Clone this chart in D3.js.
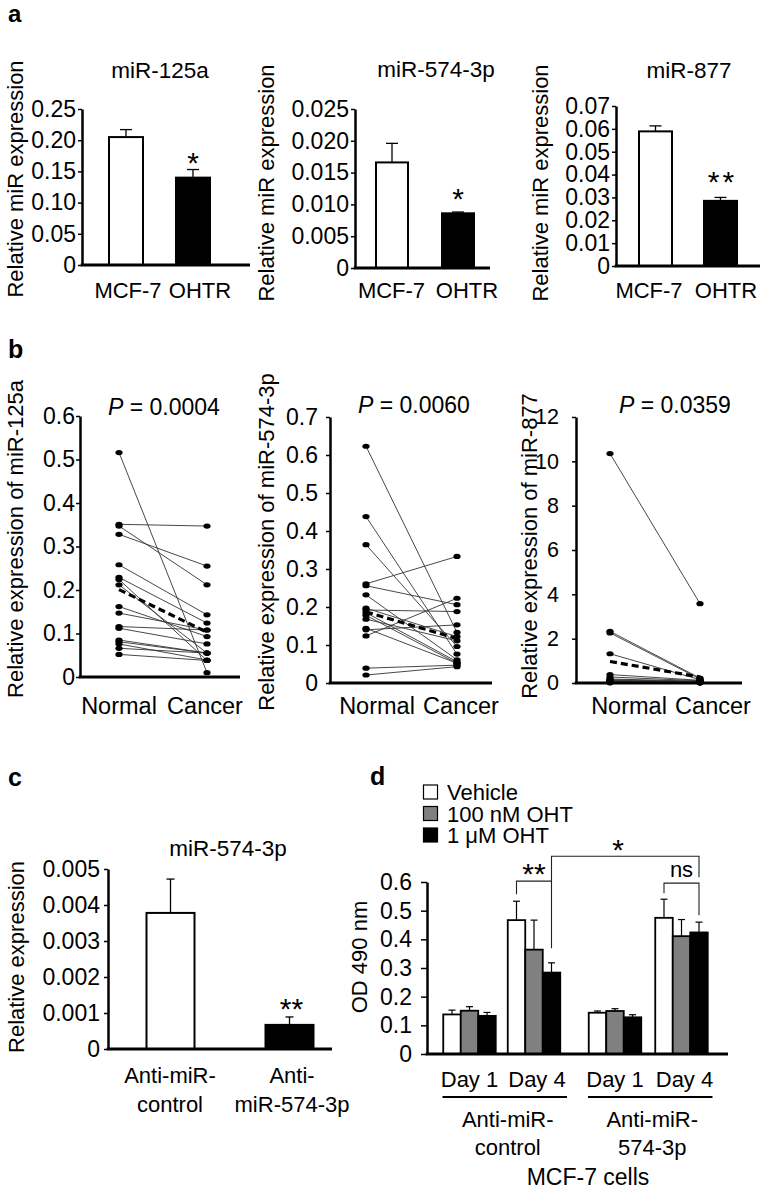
<!DOCTYPE html>
<html><head><meta charset="utf-8">
<script src="https://cdn.jsdelivr.net/npm/d3@7"></script>
<style>
body{margin:0;background:#fff;}
svg{display:block;font-family:"Liberation Sans",Arial,Helvetica,sans-serif;}
</style></head><body>
<svg id="chart" width="764" height="1192"></svg>
<script>
// ================= DATA =================
// Panel a
const aCategories = ["MCF-7", "OHTR"];
const a125aValues = [0.205, 0.140];
const a125aErrors = [0.012, 0.013];
const a125aTicks = [0, 0.05, 0.10, 0.15, 0.20, 0.25];
const a574Values = [0.0166, 0.0086];
const a574Errors = [0.0030, 0.0002];
const a574Ticks = [0, 0.005, 0.010, 0.015, 0.020, 0.025];
const a877Values = [0.0589, 0.0285];
const a877Errors = [0.0024, 0.0015];
const a877Ticks = [0, 0.01, 0.02, 0.03, 0.04, 0.05, 0.06, 0.07];

// Panel b (paired Normal / Cancer)
const bCategories = ["Normal", "Cancer"];
const b125aNormal = [0.516, 0.351, 0.347, 0.328, 0.258, 0.229, 0.224, 0.212, 0.162, 0.147, 0.116, 0.112, 0.085, 0.081, 0.076, 0.066, 0.052];
const b125aCancer = [0.010, 0.347, 0.212, 0.255, 0.143, 0.124, 0.038, 0.055, 0.093, 0.108, 0.108, 0.076, 0.055, 0.055, 0.039, 0.055, 0.038];
const b125aMean = [0.201, 0.103];
const b125aTicks = [0, 0.1, 0.2, 0.3, 0.4, 0.5, 0.6];
const b574Normal = [0.623, 0.438, 0.364, 0.261, 0.256, 0.232, 0.197, 0.192, 0.185, 0.178, 0.168, 0.144, 0.140, 0.124, 0.039, 0.021];
const b574Cancer = [0.133, 0.076, 0.096, 0.333, 0.206, 0.061, 0.122, 0.188, 0.056, 0.052, 0.111, 0.052, 0.153, 0.223, 0.047, 0.043];
const b574Mean = [0.187, 0.117];
const b574Ticks = [0, 0.1, 0.2, 0.3, 0.4, 0.5, 0.6, 0.7];
const b877Normal = [10.35, 2.33, 2.26, 1.32, 0.38, 0.27, 0.18, 0.15, 0.12, 0.10, 0.08, 0.06, 0.05, 0.04, 0.03, 0.02, 0.01];
const b877Cancer = [3.58, 0.22, 0.18, 0.15, 0.12, 0.10, 0.08, 0.06, 0.05, 0.04, 0.03, 0.03, 0.02, 0.02, 0.01, 0.01, 0.01];
const b877Mean = [0.97, 0.27];
const b877Ticks = [0, 2, 4, 6, 8, 10, 12];
const bPValues = ["0.0004", "0.0060", "0.0359"];

// Panel c
const cCategories = ["Anti-miR-control", "Anti-miR-574-3p"];
const cCategoryLines = [["Anti-miR-", "control"], ["Anti-", "miR-574-3p"]];
const cValues = [0.00378, 0.00067];
const cErrors = [0.00094, 0.00022];
const cTicks = [0, 0.001, 0.002, 0.003, 0.004, 0.005];

// Panel d
const dGroups = ["ctrl-d1", "ctrl-d4", "574-d1", "574-d4"];
const dGroupLabels = ["Day 1", "Day 4", "Day 1", "Day 4"];
const dClusterLines = [["Anti-miR-", "control"], ["Anti-miR-", "574-3p"]];
const dSeries = ["Vehicle", "100 nM OHT", "1 \u03bcM OHT"];
const dVehicle = [0.138, 0.467, 0.144, 0.475];
const dVehicleErr = [0.015, 0.066, 0.006, 0.065];
const d100nM = [0.151, 0.364, 0.150, 0.411];
const d100nMErr = [0.014, 0.103, 0.008, 0.058];
const d1uM = [0.133, 0.284, 0.128, 0.424];
const d1uMErr = [0.012, 0.034, 0.009, 0.036];
const dTicks = [0, 0.1, 0.2, 0.3, 0.4, 0.5, 0.6];

// ================= DRAWING =================
const FAM = '"Liberation Sans", Arial, Helvetica, sans-serif';
const svg = d3.select("#chart");

function addText(x, y, s, o = {}) {
  return svg.append("text").attr("x", x).attr("y", y)
    .attr("text-anchor", o.anchor || "middle")
    .attr("font-size", o.size || 22)
    .attr("font-weight", o.weight || "normal")
    .attr("letter-spacing", o.ls || null)
    .attr("fill", "#000")
    .text(s);
}
function addRotText(x, cy, s, size) {
  svg.append("text").attr("transform", `translate(${x},${cy}) rotate(-90)`)
    .attr("text-anchor", "middle").attr("font-size", size).attr("fill", "#000").text(s);
}
function drawYAxis(scale, ticks, fmt, x, tickSize, pad, fontSize = 23) {
  const g = svg.append("g").attr("transform", `translate(${x},0)`)
    .call(d3.axisLeft(scale).tickValues(ticks).tickFormat(fmt)
      .tickSize(tickSize).tickPadding(pad).tickSizeOuter(0));
  g.attr("font-size", fontSize).attr("font-family", FAM);
  g.select(".domain").attr("stroke", "#000").attr("stroke-width", 2.5);
  g.selectAll(".tick line").attr("stroke", "#000").attr("stroke-width", 1.5);
  g.selectAll(".tick text").attr("fill", "#000");
  return g;
}
function drawXBase(x0, x1, y) {
  svg.append("line").attr("x1", x0 - 1.25).attr("x2", x1).attr("y1", y).attr("y2", y)
    .attr("stroke", "#000").attr("stroke-width", 3);
}
const zeroFmt = f => (d => d === 0 ? "0" : d3.format(f)(d));

function barPanel(p) {
  const y = d3.scaleLinear().domain([0, p.max]).range([p.y0, p.yTop]);
  const x = d3.scalePoint().domain(p.cats).range(p.centerRange);
  const xl = d3.scalePoint().domain(p.cats).range(p.labelRange);
  drawYAxis(y, p.ticks, p.fmt, p.axisX, p.tickSize, p.tickPad);
  const data = p.cats.map((c, i) => ({ c, v: p.values[i], e: p.errors[i], fill: p.fills[i] }));
  const g = svg.append("g");
  g.selectAll("line.err").data(data).join("line").attr("class", "err")
    .attr("x1", d => x(d.c)).attr("x2", d => x(d.c))
    .attr("y1", d => y(d.v)).attr("y2", d => y(d.v + d.e))
    .attr("stroke", "#000").attr("stroke-width", 1.3);
  g.selectAll("line.cap").data(data).join("line").attr("class", "cap")
    .attr("x1", d => x(d.c) - p.capW).attr("x2", d => x(d.c) + p.capW)
    .attr("y1", d => y(d.v + d.e)).attr("y2", d => y(d.v + d.e))
    .attr("stroke", "#000").attr("stroke-width", 1.3);
  g.selectAll("rect").data(data).join("rect")
    .attr("x", d => x(d.c) - p.barW / 2).attr("width", p.barW)
    .attr("y", d => y(d.v)).attr("height", d => y(0) - y(d.v))
    .attr("fill", d => d.fill).attr("stroke", "#000").attr("stroke-width", 2);
  drawXBase(p.axisX, p.axisEnd, y(0));
  p.catLines.forEach((lines, i) => {
    lines.forEach((s, j) => addText(xl(p.cats[i]), p.catY + j * p.lineH, s, { size: p.catSize }));
  });
  addText(p.titleX, p.titleY, p.title, { size: 22.5 });
  addRotText(p.ylabX, p.ylabY, p.ylab, 22);
  addText(x(p.cats[1]) + (p.sigDx || 0), p.sigY, p.sig, { size: 30, ls: p.sigLs || null });
}

// ---- Panel a ----
addText(8, 22, "a", { anchor: "start", size: 24, weight: "bold" });
barPanel({ cats: aCategories, values: a125aValues, errors: a125aErrors, ticks: a125aTicks,
  fmt: zeroFmt(".2f"), max: 0.25, y0: 265, yTop: 109, axisX: 82, axisEnd: 250,
  centerRange: [126, 193], labelRange: [128, 200], barW: 34, capW: 6, fills: ["#fff", "#000"], tickSize: 4, tickPad: 2,
  catLines: aCategories.map(c => [c]), catY: 298, lineH: 0, catSize: 22,
  title: "miR-125a", titleX: 160, titleY: 78, ylab: "Relative miR expression", ylabX: 23, ylabY: 179,
  sig: "*", sigY: 173 });
barPanel({ cats: aCategories, values: a574Values, errors: a574Errors, ticks: a574Ticks,
  fmt: zeroFmt(".3f"), max: 0.025, y0: 268, yTop: 109, axisX: 355, axisEnd: 490,
  centerRange: [392, 458], labelRange: [391.5, 467], barW: 32, capW: 6, fills: ["#fff", "#000"], tickSize: 4, tickPad: 2,
  catLines: aCategories.map(c => [c]), catY: 298, lineH: 0, catSize: 22,
  title: "miR-574-3p", titleX: 436, titleY: 77, ylab: "Relative miR expression", ylabX: 274, ylabY: 183,
  sig: "*", sigY: 209 });
barPanel({ cats: aCategories, values: a877Values, errors: a877Errors, ticks: a877Ticks,
  fmt: zeroFmt(".2f"), max: 0.07, y0: 266, yTop: 106, axisX: 616, axisEnd: 760,
  centerRange: [655.5, 720.5], labelRange: [649, 726], barW: 33, capW: 6, fills: ["#fff", "#000"], tickSize: 4, tickPad: 2,
  catLines: aCategories.map(c => [c]), catY: 298, lineH: 0, catSize: 22,
  title: "miR-877", titleX: 689, titleY: 78, ylab: "Relative miR expression", ylabX: 548, ylabY: 183,
  sig: "**", sigY: 192, sigDx: 2, sigLs: 3 });

// ---- Panel b ----
addText(8, 358, "b", { anchor: "start", size: 25, weight: "bold" });
function pairPanel(p) {
  const y = d3.scaleLinear().domain([0, p.max]).range([p.y0, p.yTop]);
  const x = d3.scalePoint().domain(bCategories).range(p.pointRange);
  const xl = d3.scalePoint().domain(bCategories).range(p.labelRange);
  drawYAxis(y, p.ticks, p.fmt, p.axisX, 4, p.tickPad, p.tickFont || 23);
  const pairs = p.normal.map((n, i) => ({ n, c: p.cancer[i] }));
  const g = svg.append("g");
  g.selectAll("line.pair").data(pairs).join("line").attr("class", "pair")
    .attr("x1", x("Normal")).attr("x2", x("Cancer"))
    .attr("y1", d => y(d.n)).attr("y2", d => y(d.c))
    .attr("stroke", "#333").attr("stroke-width", 0.9);
  g.append("line").attr("x1", x("Normal")).attr("x2", x("Cancer"))
    .attr("y1", y(p.mean[0])).attr("y2", y(p.mean[1]))
    .attr("stroke", "#000").attr("stroke-width", 3.2).attr("stroke-dasharray", "7,4");
  const dots = pairs.flatMap(d => [{ k: "Normal", v: d.n }, { k: "Cancer", v: d.c }]);
  g.selectAll("ellipse").data(dots).join("ellipse")
    .attr("cx", d => x(d.k)).attr("cy", d => y(d.v)).attr("rx", 3.6).attr("ry", 2.6).attr("fill", "#000");
  drawXBase(p.axisX, p.axisEnd, y(0));
  bCategories.forEach(c => addText(xl(c), 714, c, { size: 23.5 }));
  const t = svg.append("text").attr("x", p.pX).attr("y", p.pY).attr("font-size", 23).attr("fill", "#000");
  t.append("tspan").attr("font-style", "italic").text("P");
  t.append("tspan").text(" = " + p.pVal);
  addRotText(p.ylabX, p.ylabY, p.ylab, 22);
}
pairPanel({ normal: b125aNormal, cancer: b125aCancer, mean: b125aMean, ticks: b125aTicks, fmt: zeroFmt(".1f"),
  max: 0.6, y0: 677, yTop: 416, axisX: 80, axisEnd: 240, pointRange: [119, 207], labelRange: [119, 205], tickPad: 1,
  pX: 108, pY: 415, pVal: bPValues[0], ylab: "Relative expression of miR-125a", ylabX: 23, ylabY: 539 });
pairPanel({ normal: b574Normal, cancer: b574Cancer, mean: b574Mean, ticks: b574Ticks, fmt: zeroFmt(".1f"),
  max: 0.7, y0: 683, yTop: 417, axisX: 330, axisEnd: 492, pointRange: [366, 457], labelRange: [377, 461], tickPad: 8,
  pX: 358, pY: 413, pVal: bPValues[1], ylab: "Relative expression of miR-574-3p", ylabX: 274, ylabY: 542 });
pairPanel({ normal: b877Normal, cancer: b877Cancer, mean: b877Mean, ticks: b877Ticks, fmt: d3.format("d"),
  max: 12, y0: 683, yTop: 417, axisX: 576, axisEnd: 742, pointRange: [610, 700], labelRange: [629, 713], tickPad: 13, tickFont: 21.5,
  pX: 619, pY: 413, pVal: bPValues[2], ylab: "Relative expression of miR-877", ylabX: 537, ylabY: 546 });

// ---- Panel c ----
addText(8, 786, "c", { anchor: "start", size: 25, weight: "bold" });
barPanel({ cats: cCategories, values: cValues, errors: cErrors, ticks: cTicks,
  fmt: zeroFmt(".3f"), max: 0.005, y0: 1049, yTop: 869, axisX: 108, axisEnd: 332,
  centerRange: [170.5, 289.5], labelRange: [170, 292], barW: 48, capW: 4, fills: ["#fff", "#000"], tickSize: 4, tickPad: 4,
  catLines: cCategoryLines, catY: 1083, lineH: 29, catSize: 22,
  title: "miR-574-3p", titleX: 228, titleY: 856, ylab: "Relative expression", ylabX: 24, ylabY: 957,
  sig: "**", sigY: 1019, sigDx: 2 });

// ---- Panel d ----
addText(370, 785, "d", { anchor: "start", size: 25, weight: "bold" });
(function () {
  const y = d3.scaleLinear().domain([0, 0.6]).range([1054, 882]);
  const gx = d3.scaleOrdinal().domain(dGroups).range([469.5, 534, 615, 681.5]);
  const sx = d3.scaleBand().domain(dSeries).range([-26.25, 26.25]);
  const fills = d3.scaleOrdinal().domain(dSeries).range(["#fff", "#808080", "#000"]);
  const vals = [dVehicle, d100nM, d1uM], errs = [dVehicleErr, d100nMErr, d1uMErr];
  drawYAxis(y, dTicks, zeroFmt(".1f"), 427, 6, 9);
  const data = dGroups.flatMap((g, gi) => dSeries.map((s, si) => ({ g, s, v: vals[si][gi], e: errs[si][gi] })));
  const cx = d => gx(d.g) + sx(d.s) + sx.bandwidth() / 2;
  const G = svg.append("g");
  G.selectAll("line.err").data(data).join("line").attr("class", "err")
    .attr("x1", cx).attr("x2", cx).attr("y1", d => y(d.v)).attr("y2", d => y(d.v + d.e))
    .attr("stroke", "#000").attr("stroke-width", 1.2);
  G.selectAll("line.cap").data(data).join("line").attr("class", "cap")
    .attr("x1", d => cx(d) - 3.5).attr("x2", d => cx(d) + 3.5)
    .attr("y1", d => y(d.v + d.e)).attr("y2", d => y(d.v + d.e))
    .attr("stroke", "#000").attr("stroke-width", 1.2);
  G.selectAll("rect").data(data).join("rect")
    .attr("x", d => gx(d.g) + sx(d.s)).attr("width", sx.bandwidth())
    .attr("y", d => y(d.v)).attr("height", d => y(0) - y(d.v))
    .attr("fill", d => fills(d.s)).attr("stroke", "#000").attr("stroke-width", 1.8);
  drawXBase(427, 728, y(0));
  // group labels
  dGroups.forEach((g, i) => addText(gx(g) + (i % 2 ? 3 : 0), 1087, dGroupLabels[i], { size: 22 }));
  // cluster underlines
  [[dGroups[0], dGroups[1]], [dGroups[2], dGroups[3]]].forEach(([a, b], k) => {
    svg.append("line").attr("x1", gx(a) - 27).attr("x2", gx(b) + 33 - k * 2)
      .attr("y1", 1097).attr("y2", 1097).attr("stroke", "#000").attr("stroke-width", 2.2);
    const mid = (gx(a) + gx(b)) / 2 + (k ? 4 : 6);
    dClusterLines[k].forEach((s, j) => addText(mid, 1127 + j * 28, s, { size: 22 }));
  });
  addText(588, 1185, "MCF-7 cells", { size: 23 });
  // significance brackets
  const bx = (g, s) => gx(g) + sx(s) + sx.bandwidth() / 2;
  const br = svg.append("g").attr("fill", "none").attr("stroke", "#222").attr("stroke-width", 1.1);
  const path = pts => br.append("path").attr("d", d3.line()(pts));
  const l = bx("ctrl-d4", dSeries[0]), r = bx("ctrl-d4", dSeries[2]);
  path([[l, y(0.557)], [l, y(0.603)], [r, y(0.603)], [r, y(0.369)]]);
  const r2 = bx("574-d4", dSeries[2]);
  path([[r, y(0.603)], [r, y(0.690)], [r2, y(0.690)], [r2, y(0.617)]]);
  const l3 = bx("574-d4", dSeries[0]);
  path([[l3, y(0.561)], [l3, y(0.596)], [r2, y(0.596)], [r2, y(0.484)]]);
  addText((l + r) / 2, 884, "**", { size: 30 });
  addText(618, 860, "*", { size: 30 });
  addText((l3 + r2) / 2, 877, "ns", { size: 22 });
  // legend
  dSeries.forEach((s, i) => {
    const cy = 792 + i * 21.5;
    svg.append("rect").attr("x", 423.5).attr("y", cy - 7).attr("width", 14).attr("height", 14)
      .attr("fill", fills(s)).attr("stroke", "#000").attr("stroke-width", 1.2);
    addText(447, cy + 8, s, { anchor: "start", size: 22 });
  });
  addRotText(367, 957, "OD 490 nm", 22);
})();
</script>
</body></html>
